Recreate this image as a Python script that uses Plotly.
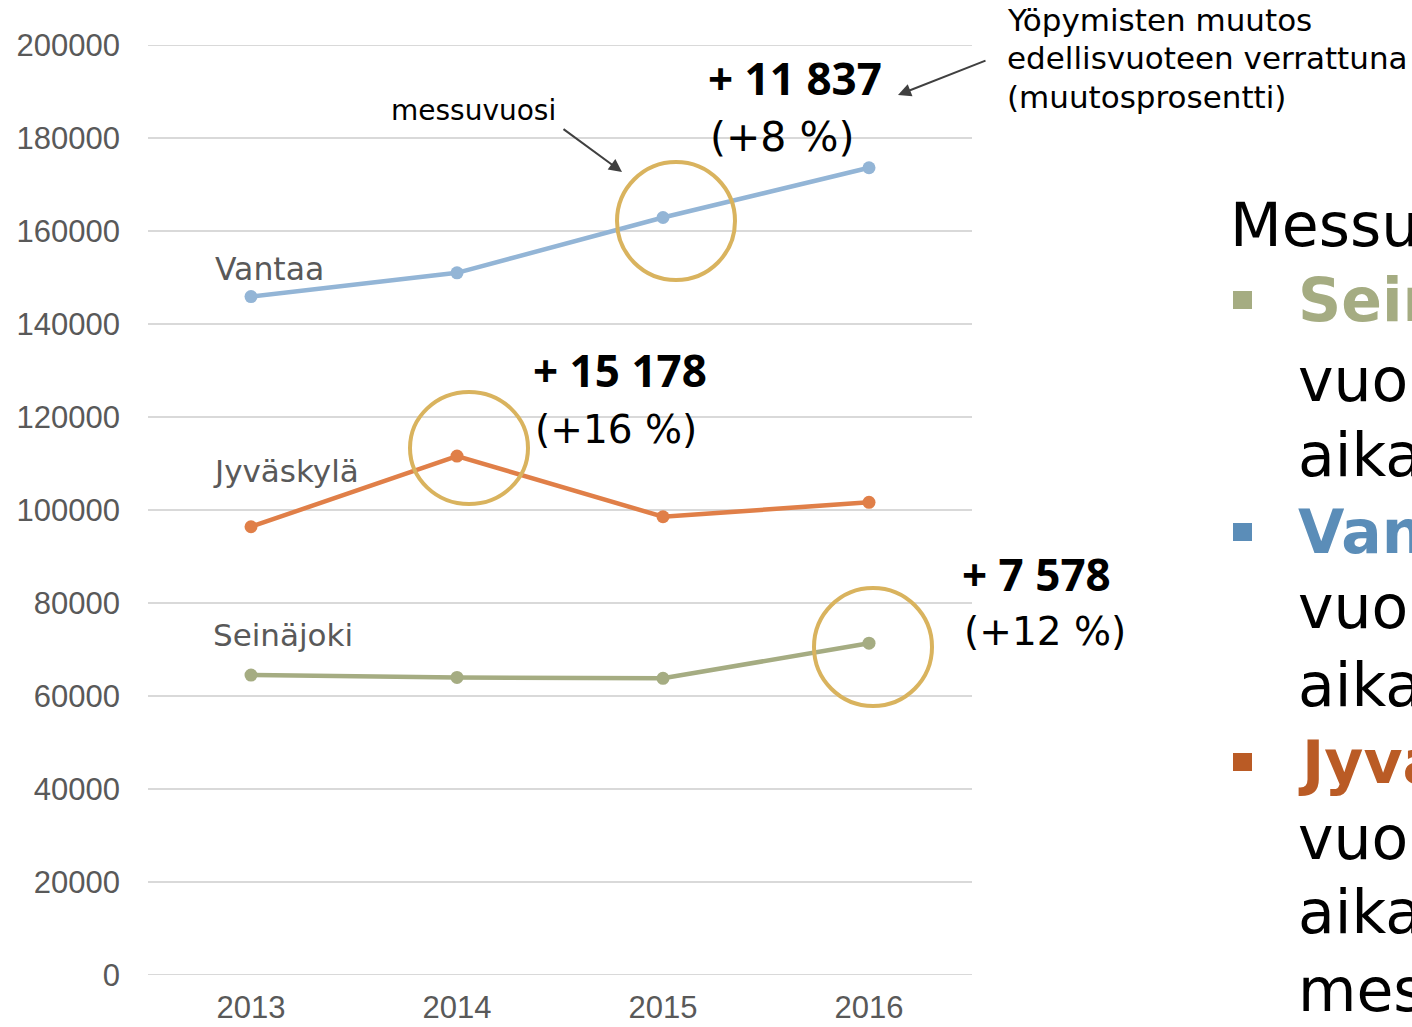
import plotly.graph_objects as go

# ---- data ----
years = ["2013", "2014", "2015", "2016"]
vantaa = [145900, 151000, 162900, 173600]
jyvaskyla = [96400, 111600, 98550, 101650]
seinajoki = [64500, 64000, 63800, 71350]
y_ticks = [0, 20000, 40000, 60000, 80000, 100000, 120000, 140000, 160000, 180000, 200000]

series = [
    ("Vantaa", vantaa, "#93B5D6"),
    ("Jyväskylä", jyvaskyla, "#E07F48"),
    ("Seinäjoki", seinajoki, "#A5AC82"),
]

W, H = 1412, 1027
L, R, T, B = 148, 440, 45, 52
PW, PH = W - L - R, H - T - B


def px(x):
    return (x - L) / PW


def py(y):
    return (H - B - y) / PH


fig = go.Figure()
for name, vals, col in series:
    fig.add_trace(go.Scatter(
        x=years, y=vals, mode="lines+markers", name=name,
        line=dict(color=col, width=4.5),
        marker=dict(color=col, size=13),
        showlegend=False, hoverinfo="skip",
    ))

REG = "DejaVu Sans"
BOLD = "Noto Sans"
GREY = "#595959"
ann = []


def txt(x, y, text, size, color="black", family=REG, bold=False):
    t = f"<b>{text}</b>" if bold else text
    ann.append(dict(x=px(x), y=py(y), xref="paper", yref="paper", text=t,
                    showarrow=False, xanchor="left", yanchor="middle",
                    font=dict(family=family, size=size, color=color)))


# series labels
txt(213, 269, "Vantaa", 31.5, GREY)
txt(211, 471, "Jyväskylä", 31, GREY)
txt(211, 635, "Seinäjoki", 31, GREY)

# messuvuosi
txt(389, 110, "messuvuosi", 28)

# change annotations
txt(706, 78, "+ 11 837", 44, family=BOLD, bold=True)
txt(708, 137, "(+8 %)", 41)
txt(531, 370, "+ 15 178", 44, family=BOLD, bold=True)
txt(533, 429, "(+16 %)", 39)
txt(960, 574, "+ 7 578", 44, family=BOLD, bold=True)
txt(962, 632, "(+12 %)", 39)

# explanatory text
txt(1005, 20, "Yöpymisten muutos", 31)
txt(1005, 58, "edellisvuoteen verrattuna", 31)
txt(1005, 97, "(muutosprosentti)", 31)

# arrows
for hx, hy, tx, ty in [(622, 172, 562, 128), (898, 95, 987, 60)]:
    ann.append(dict(x=px(hx), y=py(hy), xref="paper", yref="paper", text="",
                    showarrow=True, ax=tx - hx, ay=ty - hy, axref="pixel", ayref="pixel",
                    arrowhead=2, arrowsize=1.3, arrowwidth=2, arrowcolor="#404040"))

# right-side slide text (runs past the page edge, as in the source slide)
txt(1228, 225, "Messukaupungit", 60)
side = [
    (300, "Seinäjoki", "#A5AC82", True),
    (380, "vuonna", "black", False),
    (455, "aikana", "black", False),
    (532, "Vantaa", "#5B8DB8", True),
    (607, "vuonna", "black", False),
    (685, "aikana", "black", False),
    (762, "Jyväskylä", "#BA5B25", True),
    (838, "vuonna", "black", False),
    (912, "aikana", "black", False),
    (990, "messujen", "black", False),
]
shapes = []
for yy, word, col, b in side:
    txt(1296, yy, word, 60, col, family=REG, bold=b)
    if b:
        shapes.append(dict(type="rect", xref="paper", yref="paper",
                           x0=px(1233), x1=px(1252), y0=py(yy + 9), y1=py(yy - 9),
                           fillcolor=col, line=dict(width=0)))

# circles
for cx, cy, rx, ry in [(676, 221, 59, 59), (469, 448, 59, 56), (873, 647, 59, 59)]:
    shapes.append(dict(type="circle", xref="paper", yref="paper",
                       x0=px(cx - rx), x1=px(cx + rx), y0=py(cy + ry), y1=py(cy - ry),
                       line=dict(color="#D9B35E", width=4)))

# edge gridlines (0 and 200000)
for v in (y_ticks[0], y_ticks[-1]):
    shapes.append(dict(type="line", xref="paper", yref="y", x0=0, x1=1, y0=v, y1=v,
                       line=dict(color="#D9D9D9", width=2), layer="below"))

fig.update_layout(
    width=W, height=H,
    margin=dict(l=L, r=R, t=T, b=B),
    paper_bgcolor="white", plot_bgcolor="white",
    annotations=ann, shapes=shapes,
    xaxis=dict(range=[-0.5, 3.5], showgrid=False, zeroline=False, showline=False,
               automargin=False,
               tickfont=dict(family="Liberation Sans", size=31, color=GREY),
               ticklabelstandoff=11),
    yaxis=dict(range=[0, 200000], tickvals=y_ticks, ticktext=[str(v) for v in y_ticks],
               showgrid=True, gridcolor="#D9D9D9", gridwidth=2, zeroline=False,
               showline=False, automargin=False,
               tickfont=dict(family="Liberation Sans", size=31, color=GREY),
               ticklabelstandoff=27),
)

fig.write_html("out.html", config={"displayModeBar": False},
               post_script="document.body.style.margin='0';")
